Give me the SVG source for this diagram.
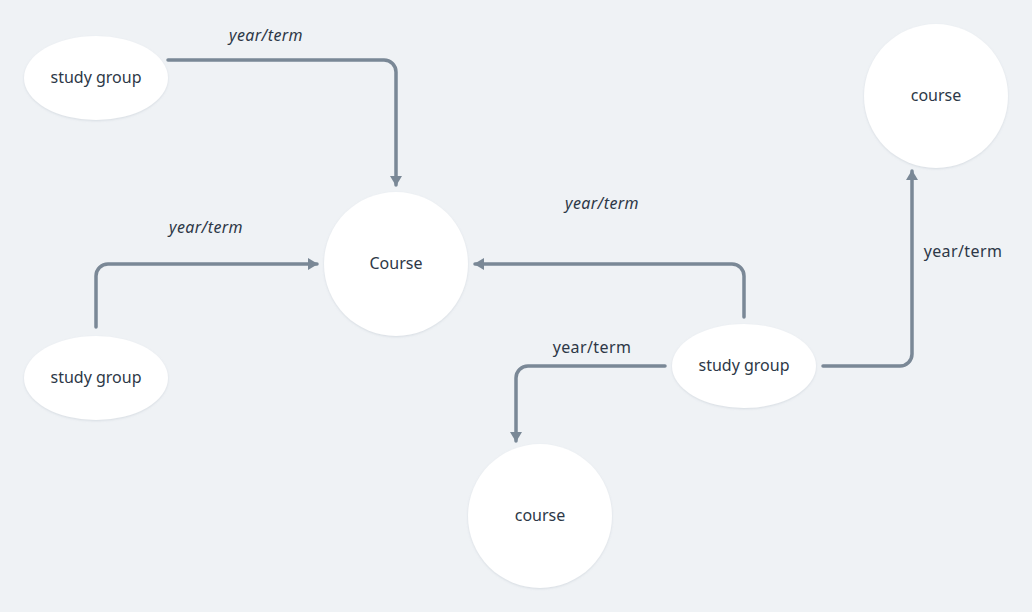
<svg xmlns="http://www.w3.org/2000/svg" width="1032" height="612" viewBox="0 0 1032 612">
<defs>
<filter id="sh" x="-20%" y="-20%" width="140%" height="140%">
<feDropShadow dx="0" dy="1" stdDeviation="1.2" flood-color="#8a99a8" flood-opacity="0.25"/>
</filter>
<marker id="ah" viewBox="0 0 10 12" refX="9" refY="6" markerWidth="10" markerHeight="12" markerUnits="userSpaceOnUse" orient="auto">
<path d="M0,0 L10,6 L0,12 Z" fill="#7a8896"/>
</marker>
<style>
.node{fill:#ffffff;filter:url(#sh);}
.lbl{font-family:"Noto Sans","Open Sans",sans-serif;font-size:16px;fill:#2d3847;text-anchor:middle;dominant-baseline:central;}
.edge{fill:none;stroke:#7a8896;stroke-width:3.5;stroke-linecap:round;stroke-linejoin:round;marker-end:url(#ah);}
.el{font-family:"Noto Sans","Open Sans",sans-serif;font-size:16px;letter-spacing:0.4px;fill:#2d3847;text-anchor:middle;dominant-baseline:central;}
.it{font-style:italic;}
</style>
</defs>
<rect width="1032" height="612" fill="#eff2f5"/>
<g id="connectors">
<path class="edge" d="M168,60 H384 A12,12 0 0 1 396,72 V185"/>
<path class="edge" d="M96,327 V276 A12,12 0 0 1 108,264 H317"/>
<path class="edge" d="M744,317 V276 A12,12 0 0 0 732,264 H475"/>
<path class="edge" d="M665,366 H528 A12,12 0 0 0 516,378 V441"/>
<path class="edge" d="M823,366 H900 A12,12 0 0 0 912,354 V171"/>
<text class="el it" x="266" y="35">year/term</text>
<text class="el it" x="206" y="227">year/term</text>
<text class="el it" x="602" y="203">year/term</text>
<text class="el" x="592" y="347">year/term</text>
<text class="el" x="963" y="251">year/term</text>
</g>
<g id="sg1"><ellipse class="node" cx="96" cy="78" rx="72" ry="42"/><text class="lbl" x="96" y="77">study group</text></g>
<g id="sg2"><ellipse class="node" cx="96" cy="378" rx="72" ry="42"/><text class="lbl" x="96" y="377">study group</text></g>
<g id="sg3"><ellipse class="node" cx="744" cy="366" rx="72" ry="42"/><text class="lbl" x="744" y="365">study group</text></g>
<g id="course-main"><circle class="node" cx="396" cy="264" r="72"/><text class="lbl" x="396" y="263">Course</text></g>
<g id="course-tr"><circle class="node" cx="936" cy="96" r="72"/><text class="lbl" x="936" y="95">course</text></g>
<g id="course-b"><circle class="node" cx="540" cy="516" r="72"/><text class="lbl" x="540" y="515">course</text></g>
</svg>
